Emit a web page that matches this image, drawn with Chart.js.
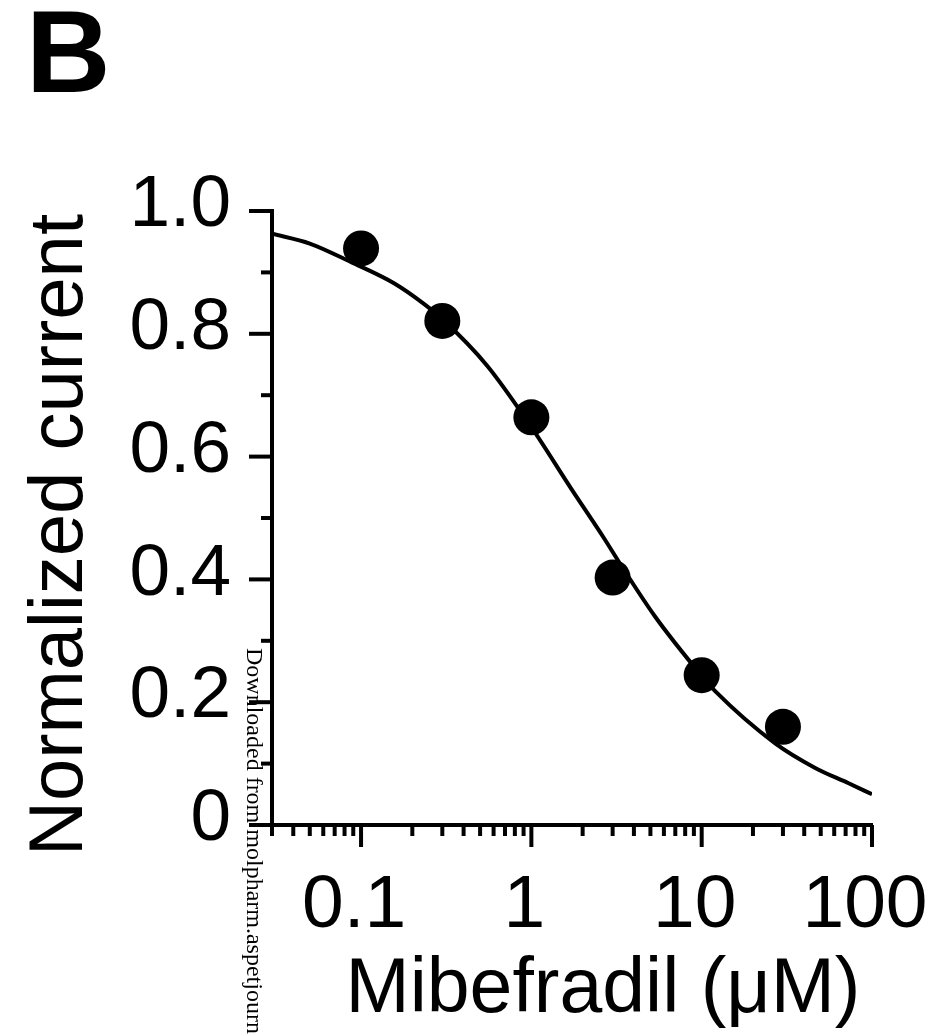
<!DOCTYPE html>
<html>
<head>
<meta charset="utf-8">
<script src="https://cdn.jsdelivr.net/npm/chart.js@4.4.1/dist/chart.umd.min.js"></script>
<style>
  html, body { margin: 0; padding: 0; background: #fff; }
  #wrap { position: relative; width: 948px; height: 1034px; overflow: hidden; }
  #panel { position: absolute; left: 26px; top: -7px; font: bold 117px "Liberation Sans", Arial, sans-serif; line-height: 1; }
  #stamp { position: absolute; left: 243px; top: 648px; writing-mode: vertical-rl; font: 24px "Liberation Serif", "Times New Roman", serif; line-height: 1; white-space: nowrap; }
</style>
</head>
<body>
<div id="wrap">
  <canvas id="chart" width="948" height="1034"></canvas>
  <div id="panel">B</div>
  <div id="stamp">Downloaded from molpharm.aspetjournals.org at ASPET Journals</div>
</div>
<script>
// measured points (mibefradil concentration in uM, normalized current)
var doseValues = [0.1, 0.3, 1, 3, 10, 30];
var currentValues = [0.939, 0.821, 0.664, 0.403, 0.244, 0.160];

// fitted curve
var fitDose = [0.03, 0.05, 0.087, 0.157, 0.236, 0.3, 0.55, 1, 1.72, 2.7, 3.24, 5.31, 10, 12, 27, 46.4, 72.9, 100];
var fitCurrent = [0.963, 0.947, 0.917, 0.882, 0.848, 0.824, 0.748, 0.648, 0.547, 0.465, 0.43, 0.34, 0.243, 0.218, 0.133, 0.093, 0.068, 0.05];

// axes
var xLabelValues = [0.1, 1, 10, 100];
var xLabels = ['0.1', '1', '10', '100'];
var xMinorValues = [0.03, 0.04, 0.05, 0.06, 0.07, 0.08, 0.09,
  0.2, 0.3, 0.4, 0.5, 0.6, 0.7, 0.8, 0.9,
  2, 3, 4, 5, 6, 7, 8, 9,
  20, 30, 40, 50, 60, 70, 80, 90];
var yLabelValues = [0, 0.2, 0.4, 0.6, 0.8, 1.0];
var yLabels = ['0', '0.2', '0.4', '0.6', '0.8', '1.0'];
var yMinorValues = [0.1, 0.3, 0.5, 0.7, 0.9];

var xTitle = 'Mibefradil (\u03bcM)';
var yTitle = 'Normalized current';

var fontName = '"Liberation Sans", Arial, Helvetica, sans-serif';

// tick marks (outward, long for labelled values) and axis titles
var axisExtras = {
  id: 'axisExtras',
  afterDraw: function(chart) {
    var ctx = chart.ctx;
    var area = chart.chartArea;
    var xs = chart.scales.x;
    var ys = chart.scales.y;
    ctx.save();
    ctx.strokeStyle = '#000';
    ctx.lineWidth = 4;
    ctx.lineCap = 'butt';
    function mark(x1, y1, x2, y2) {
      ctx.beginPath();
      ctx.moveTo(x1, y1);
      ctx.lineTo(x2, y2);
      ctx.stroke();
    }
    xLabelValues.forEach(function(v) {
      var px = xs.getPixelForValue(v);
      mark(px, area.bottom, px, area.bottom + 22);
    });
    xMinorValues.forEach(function(v) {
      var px = xs.getPixelForValue(v);
      mark(px, area.bottom, px, area.bottom + 11);
    });
    yLabelValues.forEach(function(v) {
      var py = ys.getPixelForValue(v);
      mark(area.left, py, area.left - 23, py);
    });
    yMinorValues.forEach(function(v) {
      var py = ys.getPixelForValue(v);
      mark(area.left, py, area.left - 11, py);
    });

    ctx.fillStyle = '#000';
    ctx.textAlign = 'center';
    ctx.textBaseline = 'alphabetic';
    ctx.font = '77px ' + fontName;
    ctx.fillText(xTitle, (area.left + area.right) / 2 + 31, area.bottom + 187);
    ctx.font = '76px ' + fontName;
    ctx.translate(82, (area.top + area.bottom) / 2 + 17);
    ctx.rotate(-Math.PI / 2);
    ctx.fillText(yTitle, 0, 0);
    ctx.restore();
  }
};

var ctx = document.getElementById('chart');
var myChart = new Chart(ctx, {
  type: 'scatter',
  data: {
    datasets: [{
      label: 'fit',
      data: fitDose.map(function(d, i) { return {x: d, y: fitCurrent[i]}; }),
      showLine: true,
      borderColor: '#000',
      borderWidth: 4,
      pointRadius: 0,
      cubicInterpolationMode: 'monotone',
      fill: false,
      order: 2
    }, {
      label: 'data',
      data: doseValues.map(function(d, i) { return {x: d, y: currentValues[i]}; }),
      backgroundColor: '#000',
      borderColor: '#000',
      borderWidth: 0,
      pointRadius: 18,
      order: 1
    }]
  },
  plugins: [axisExtras],
  options: {
    responsive: false,
    animation: false,
    devicePixelRatio: 1,
    layout: { padding: { top: 211, right: 76, left: 0, bottom: 0 } },
    plugins: {
      legend: { display: false },
      tooltip: { enabled: false }
    },
    scales: {
      x: {
        type: 'logarithmic',
        position: 'bottom',
        min: 0.03,
        max: 100,
        afterBuildTicks: function(scale) {
          scale.ticks = xLabelValues.map(function(v) { return {value: v}; });
        },
        afterFit: function(scale) {
          scale.height = 209;
          scale.paddingLeft = 0;
          scale.paddingRight = 0;
        },
        grid: { display: false, drawTicks: false },
        border: { display: true, color: '#000', width: 4 },
        ticks: {
          autoSkip: false,
          maxRotation: 0,
          padding: 36,
          labelOffset: -7,
          color: '#000',
          font: { family: fontName, size: 75 },
          callback: function(value) {
            var i = xLabelValues.indexOf(value);
            return i >= 0 ? xLabels[i] : '';
          }
        }
      },
      y: {
        type: 'linear',
        min: 0,
        max: 1,
        afterBuildTicks: function(scale) {
          scale.ticks = yLabelValues.map(function(v) { return {value: v}; });
        },
        afterFit: function(scale) {
          scale.width = 272;
          scale.paddingTop = 0;
          scale.paddingBottom = 0;
        },
        grid: { display: false, drawTicks: false },
        border: { display: true, color: '#000', width: 4 },
        ticks: {
          padding: 41,
          labelOffset: -5,
          color: '#000',
          font: { family: fontName, size: 73 },
          callback: function(value) {
            var i = yLabelValues.indexOf(value);
            return i >= 0 ? yLabels[i] : '';
          }
        }
      }
    }
  }
});
</script>
</body>
</html>
